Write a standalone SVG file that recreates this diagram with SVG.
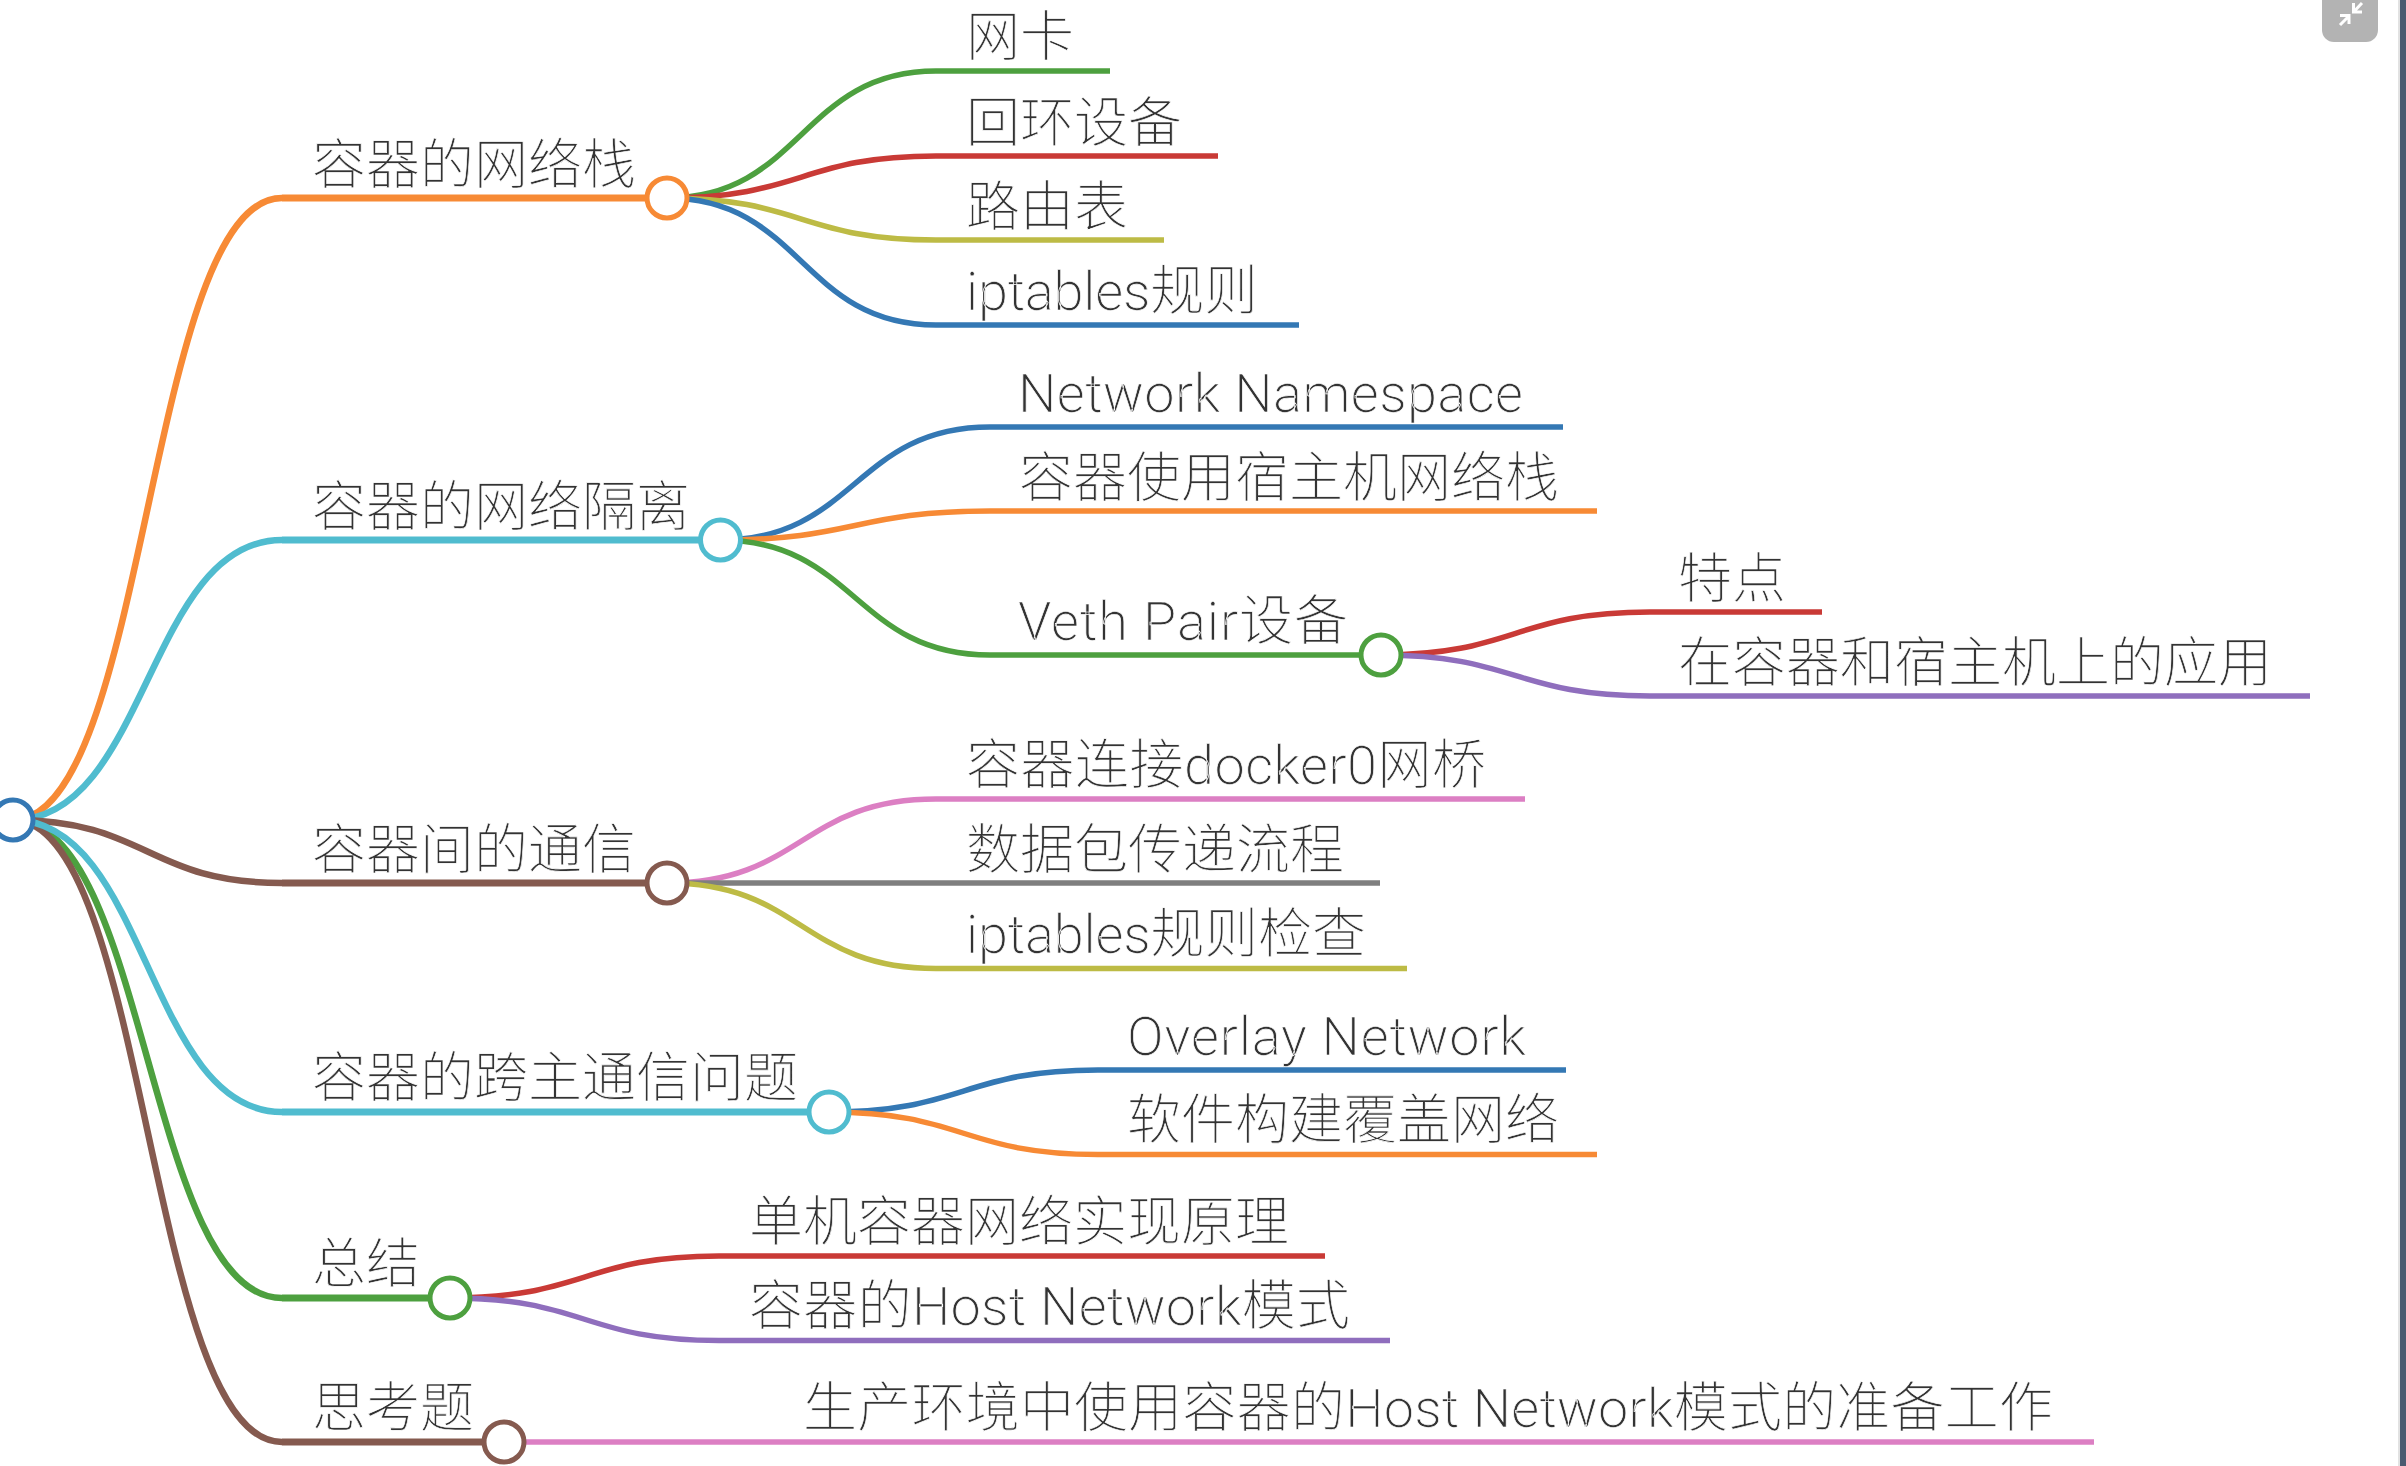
<svg xmlns="http://www.w3.org/2000/svg" width="2406" height="1466" viewBox="0 0 2406 1466">
<style>
text{font-family:"Roboto","Noto Sans CJK SC",sans-serif;font-weight:300;font-size:54px;fill:#333;stroke:#fff;stroke-width:.7;paint-order:fill stroke}
.l{fill:none;stroke-linecap:butt}
.w1{stroke-width:7}.w2{stroke-width:5.500}
.r{stroke-width:6.500}
.or{stroke:#f78a35}.te{stroke:#50bccf}.br{stroke:#855a4f}.gr{stroke:#4da03f}.rd{stroke:#c93a36}.bl{stroke:#3478b4}.ye{stroke:#bdbb45}.pk{stroke:#dc7fc3}.gy{stroke:#7f7f7f}.pu{stroke:#8f6ebd}
circle{fill:#fff;stroke-width:5}
</style>
<rect width="2406" height="1466" fill="#fff"/>
<g id="connectors">
<path class="l r or" d="M13 820C147.500 820 147.500 198 282 198"/>
<path class="l r te" d="M13 820C147.500 820 147.500 540 282 540"/>
<path class="l r br" d="M13 820C147.500 820 147.500 883 282 883"/>
<path class="l r gr" d="M13 820C147.500 820 147.500 1298 282 1298"/>
<path class="l r br" d="M13 820C147.500 820 147.500 1442 282 1442"/>
<path class="l r te" d="M13 820C147.500 820 147.500 1112 282 1112"/>
<path class="l w1 or" d="M282 198H667"/>
<path class="l w1 te" d="M282 540H720"/>
<path class="l w1 br" d="M282 883H667"/>
<path class="l w1 te" d="M282 1112H829"/>
<path class="l w1 gr" d="M282 1298H450"/>
<path class="l w1 br" d="M282 1442H504"/>
<path class="l w2 gr" d="M667 198C801.500 198 801.500 71 936 71H1110"/>
<path class="l w2 rd" d="M667 198C801.500 198 801.500 156 936 156H1218"/>
<path class="l w2 ye" d="M667 198C801.500 198 801.500 240 936 240H1164"/>
<path class="l w2 bl" d="M667 198C801.500 198 801.500 325 936 325H1299"/>
<path class="l w2 bl" d="M720 540C855 540 855 427 990 427H1563"/>
<path class="l w2 or" d="M720 540C855 540 855 511 990 511H1597"/>
<path class="l w2 gr" d="M720 540C855 540 855 655 990 655H1381"/>
<path class="l w2 rd" d="M1381 655C1515 655 1515 612 1650 612H1822"/>
<path class="l w2 pu" d="M1381 655C1515 655 1515 696 1650 696H2310"/>
<path class="l w2 pk" d="M667 883C801.500 883 801.500 799 936 799H1525"/>
<path class="l w2 gy" d="M667 883H1380"/>
<path class="l w2 ye" d="M667 883C801.500 883 801.500 968.500 936 968.500H1407"/>
<path class="l w2 bl" d="M829 1112C963.500 1112 963.500 1070 1098 1070H1566"/>
<path class="l w2 or" d="M829 1112C963.500 1112 963.500 1154.500 1098 1154.500H1597"/>
<path class="l w2 rd" d="M450 1298C584.500 1298 584.500 1256 719 1256H1325"/>
<path class="l w2 pu" d="M450 1298C584.500 1298 584.500 1340.500 719 1340.500H1390"/>
<path class="l w2 pk" d="M504 1442H2094"/>
</g>
<g id="root"><circle cx="13" cy="820" r="20" stroke="#3478b4"/></g>
<g id="n1"><circle cx="667" cy="198" r="20" stroke="#f78a35"/><text x="312" y="184">容器的网络栈</text></g>
<g id="n1-1"><text x="966" y="56">网卡</text></g>
<g id="n1-2"><text x="966" y="142">回环设备</text></g>
<g id="n1-3"><text x="966" y="226">路由表</text></g>
<g id="n1-4"><text x="966" y="310" textLength="292">iptables规则</text></g>
<g id="n2"><circle cx="720.500" cy="540" r="20" stroke="#50bccf"/><text x="312" y="526">容器的网络隔离</text></g>
<g id="n2-1"><text x="1018" y="412" textLength="505">Network Namespace</text></g>
<g id="n2-2"><text x="1019" y="497">容器使用宿主机网络栈</text></g>
<g id="n2-3"><circle cx="1381" cy="655" r="20" stroke="#4da03f"/><text x="1018" y="640" textLength="330">Veth Pair设备</text></g>
<g id="n2-3-1"><text x="1678" y="598">特点</text></g>
<g id="n2-3-2"><text x="1678" y="682">在容器和宿主机上的应用</text></g>
<g id="n3"><circle cx="667" cy="883" r="20" stroke="#855a4f"/><text x="312" y="869">容器间的通信</text></g>
<g id="n3-1"><text x="966" y="784" textLength="520">容器连接docker0网桥</text></g>
<g id="n3-2"><text x="966" y="869">数据包传递流程</text></g>
<g id="n3-3"><text x="966" y="953" textLength="400">iptables规则检查</text></g>
<g id="n4"><circle cx="829" cy="1112" r="20" stroke="#50bccf"/><text x="312" y="1097">容器的跨主通信问题</text></g>
<g id="n4-1"><text x="1127" y="1055" textLength="399">Overlay Network</text></g>
<g id="n4-2"><text x="1127" y="1139">软件构建覆盖网络</text></g>
<g id="n5"><circle cx="450" cy="1298" r="20" stroke="#4da03f"/><text x="312" y="1283">总结</text></g>
<g id="n5-1"><text x="749" y="1241">单机容器网络实现原理</text></g>
<g id="n5-2"><text x="749" y="1325" textLength="601">容器的Host Network模式</text></g>
<g id="n6"><circle cx="504" cy="1442" r="20" stroke="#855a4f"/><text x="312" y="1427">思考题</text></g>
<g id="n6-1"><text x="803" y="1427" textLength="1250">生产环境中使用容器的Host Network模式的准备工作</text></g>
<g id="button">
<rect x="2322" y="-12" width="56" height="54" rx="12" fill="#b3b3b3"/>
<path d="M2340 25L2349 16M2340 15.500H2349V24M2362 3L2354 11.500M2353.500 3V12H2362" fill="none" stroke="#fff" stroke-width="3"/>
</g>
<g id="scrollbar">
<rect x="2398" y="0" width="2" height="1466" fill="#e2e2e2"/>
<rect x="2400" y="0" width="6" height="1466" fill="#4a5b70"/>
</g>
</svg>
